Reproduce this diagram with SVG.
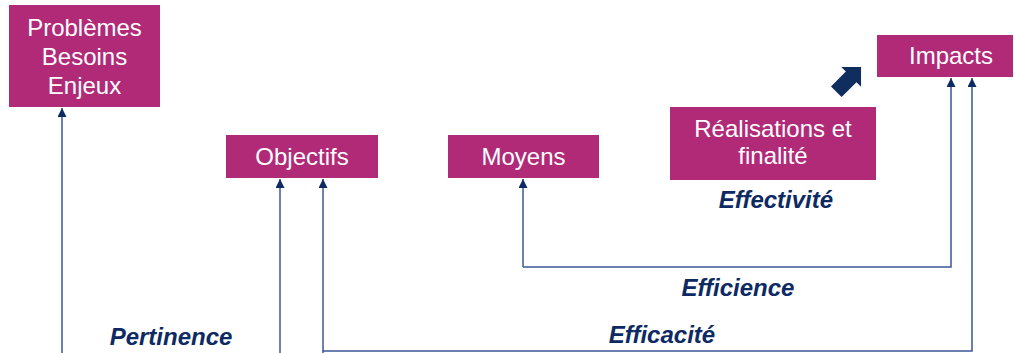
<svg xmlns="http://www.w3.org/2000/svg" width="1014" height="353" viewBox="0 0 1014 353">
<style>
.box{fill:#B12A78;}
.bt{fill:#fff;font-family:"Liberation Sans",Arial,sans-serif;font-size:24px;text-anchor:middle;}
.lbl{fill:#0D2A62;font-family:"Liberation Sans",Arial,sans-serif;font-size:24px;font-weight:bold;font-style:italic;text-anchor:middle;}
.ln{fill:none;stroke:#3C5797;stroke-width:1.5;}
</style>
<defs>
<marker id="ah" viewBox="0 0 10 10" refX="10" refY="5" markerWidth="9" markerHeight="9" markerUnits="userSpaceOnUse" orient="auto">
<path d="M0,0 L10,5 L0,10 Z" fill="#0D2A62"/>
</marker>
</defs>
<rect width="1014" height="353" fill="#fff"/>
<g id="connectors">
<path class="ln" d="M62,353 V108" marker-end="url(#ah)"/>
<path class="ln" d="M280,353 V179" marker-end="url(#ah)"/>
<path class="ln" d="M323,353 V351 H972 V78" marker-end="url(#ah)"/>
<path class="ln" d="M323,351 V179" marker-end="url(#ah)"/>
<path class="ln" d="M523,267 V179" marker-end="url(#ah)"/>
<path class="ln" d="M523,267 H951 V78" marker-end="url(#ah)"/>
</g>
<g id="problemes">
<rect class="box" x="9" y="5" width="151" height="102"/>
<text class="bt" x="84.5" y="36">Problèmes</text>
<text class="bt" x="84.5" y="65">Besoins</text>
<text class="bt" x="84.5" y="94">Enjeux</text>
</g>
<g id="objectifs">
<rect class="box" x="226" y="135" width="152" height="43"/>
<text class="bt" x="302" y="165">Objectifs</text>
</g>
<g id="moyens">
<rect class="box" x="448" y="135" width="151" height="43"/>
<text class="bt" x="523.5" y="165">Moyens</text>
</g>
<g id="realisations">
<rect class="box" x="670" y="107" width="206" height="73"/>
<text class="bt" x="773" y="137">Réalisations et</text>
<text class="bt" x="773" y="164">finalité</text>
</g>
<g id="impacts">
<rect class="box" x="877" y="35" width="136" height="42"/>
<text class="bt" x="951" y="64">Impacts</text>
</g>
<g id="block-arrow">
<polygon points="0,-7.5 21,-7.5 21,-14 35,0 21,14 21,7.5 0,7.5" fill="#0F2D5F" transform="translate(836.3,91.7) rotate(-45)"/>
</g>
<g id="labels">
<text class="lbl" x="776" y="208">Effectivité</text>
<text class="lbl" x="738" y="296">Efficience</text>
<text class="lbl" x="662" y="343">Efficacité</text>
<text class="lbl" x="171" y="345">Pertinence</text>
</g>
</svg>
